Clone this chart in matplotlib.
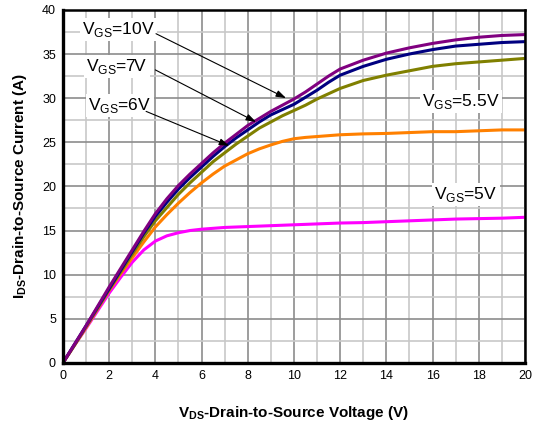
import matplotlib
matplotlib.use("Agg")
import matplotlib.pyplot as plt
from matplotlib.ticker import MultipleLocator

plt.rcParams["font.family"] = ["Liberation Sans", "DejaVu Sans"]
plt.rcParams["mathtext.fontset"] = "custom"
plt.rcParams["mathtext.rm"] = "Liberation Sans"
plt.rcParams["mathtext.bf"] = "Liberation Sans:bold"

# -------------------------------------------------------------------
# Output characteristics
# -------------------------------------------------------------------
vds = [0, 0.5, 1, 1.5, 2, 2.5, 3, 3.5, 4, 4.5, 5, 5.5, 6, 6.5, 7, 7.5,
       8, 8.5, 9, 9.5, 10, 10.5, 11, 11.5, 12, 13, 14, 15, 16, 17, 18, 19, 20]

ids_5v = [0, 2.0, 3.9, 5.9, 7.9, 9.7, 11.4, 12.8, 13.8, 14.4, 14.75, 15.0,
          15.15, 15.25, 15.35, 15.4, 15.45, 15.5, 15.55, 15.6, 15.65, 15.7,
          15.75, 15.8, 15.85, 15.9, 16.0, 16.1, 16.2, 16.3, 16.35, 16.4, 16.5]
ids_5v5 = [0, 2.0, 4.0, 6.1, 8.2, 10.1, 11.9, 13.7, 15.4, 16.8, 18.1, 19.3,
           20.4, 21.4, 22.3, 23.0, 23.7, 24.25, 24.7, 25.1, 25.4, 25.55,
           25.65, 25.75, 25.85, 25.95, 26.0, 26.1, 26.2, 26.2, 26.3, 26.4, 26.4]
ids_6v = [0, 2.0, 4.1, 6.2, 8.3, 10.3, 12.3, 14.3, 16.1, 17.6, 19.1, 20.4,
          21.6, 22.8, 23.8, 24.8, 25.7, 26.6, 27.3, 28.0, 28.6, 29.2, 29.9,
          30.5, 31.1, 32.0, 32.6, 33.1, 33.6, 33.9, 34.1, 34.3, 34.5]
ids_7v = [0, 2.1, 4.2, 6.3, 8.4, 10.5, 12.6, 14.7, 16.6, 18.2, 19.7, 21.0,
          22.2, 23.4, 24.5, 25.5, 26.4, 27.3, 28.1, 28.7, 29.3, 30.1, 30.9,
          31.8, 32.6, 33.6, 34.4, 35.0, 35.5, 35.9, 36.1, 36.3, 36.4]
ids_10v = [0, 2.1, 4.2, 6.4, 8.6, 10.7, 12.8, 14.9, 16.9, 18.6, 20.1, 21.4,
           22.6, 23.8, 24.9, 25.9, 26.9, 27.7, 28.5, 29.2, 29.9, 30.7, 31.6,
           32.5, 33.3, 34.3, 35.1, 35.7, 36.2, 36.6, 36.9, 37.1, 37.2]

series = [
    (ids_5v, "#ff00ff"),
    (ids_5v5, "#ff8000"),
    (ids_6v, "#808000"),
    (ids_7v, "#000080"),
    (ids_10v, "#800080"),
]

fig = plt.figure(figsize=(5.33, 4.29), dpi=100)
ax = fig.add_axes([0.118, 0.154, 0.867, 0.823])

for ids, color in series:
    ax.plot(vds, ids, color=color, linewidth=2.2, solid_capstyle="round",
            solid_joinstyle="round")

ax.set_xlim(0, 20)
ax.set_ylim(0, 40)
ax.xaxis.set_major_locator(MultipleLocator(2))
ax.xaxis.set_minor_locator(MultipleLocator(1))
ax.yaxis.set_major_locator(MultipleLocator(5))
ax.yaxis.set_minor_locator(MultipleLocator(2.5))
ax.grid(True, which="major", color="#8c8c8c", linewidth=1.2)
ax.grid(True, which="minor", color="#c8c8c8", linewidth=1.2)
ax.set_axisbelow(True)
ax.tick_params(which="both", length=0, labelsize=9, pad=5)

for side in ["left", "bottom"]:
    ax.spines[side].set_linewidth(2.4)
for side in ["top", "right"]:
    ax.spines[side].set_linewidth(1.8)

ax.set_xlabel(r"V$_{\mathbf{DS}}$-Drain-to-Source Voltage (V)",
              fontsize=11, fontweight="bold", labelpad=16)
ax.set_ylabel(r"I$_{\mathbf{DS}}$-Drain-to-Source Current (A)",
              fontsize=11, fontweight="bold", labelpad=9)

box = dict(facecolor="white", edgecolor="none", pad=1.5)
labels = [
    (r"V$_{\mathregular{GS}}$=10V", 0.84, 37.8),
    (r"V$_{\mathregular{GS}}$=7V", 1.02, 33.6),
    (r"V$_{\mathregular{GS}}$=6V", 1.1, 29.2),
    (r"V$_{\mathregular{GS}}$=5.5V", 15.56, 29.6),
    (r"V$_{\mathregular{GS}}$=5V", 16.08, 19.1),
]
for txt, x, y in labels:
    ax.text(x, y, txt, fontsize=12.5, ha="left", va="center", bbox=box)

arrows = [
    ((4.03, 37.3), (9.66, 30.0)),
    ((4.0, 33.2), (8.36, 27.3)),
    ((3.6, 28.5), (7.2, 24.6)),
]
for start, tip in arrows:
    ax.annotate("", xy=tip, xytext=start,
                arrowprops=dict(arrowstyle="-|>,head_length=0.6,head_width=0.2",
                                color="black", linewidth=0.8,
                                shrinkA=0, shrinkB=0))

fig.savefig("out.png", dpi=100)
